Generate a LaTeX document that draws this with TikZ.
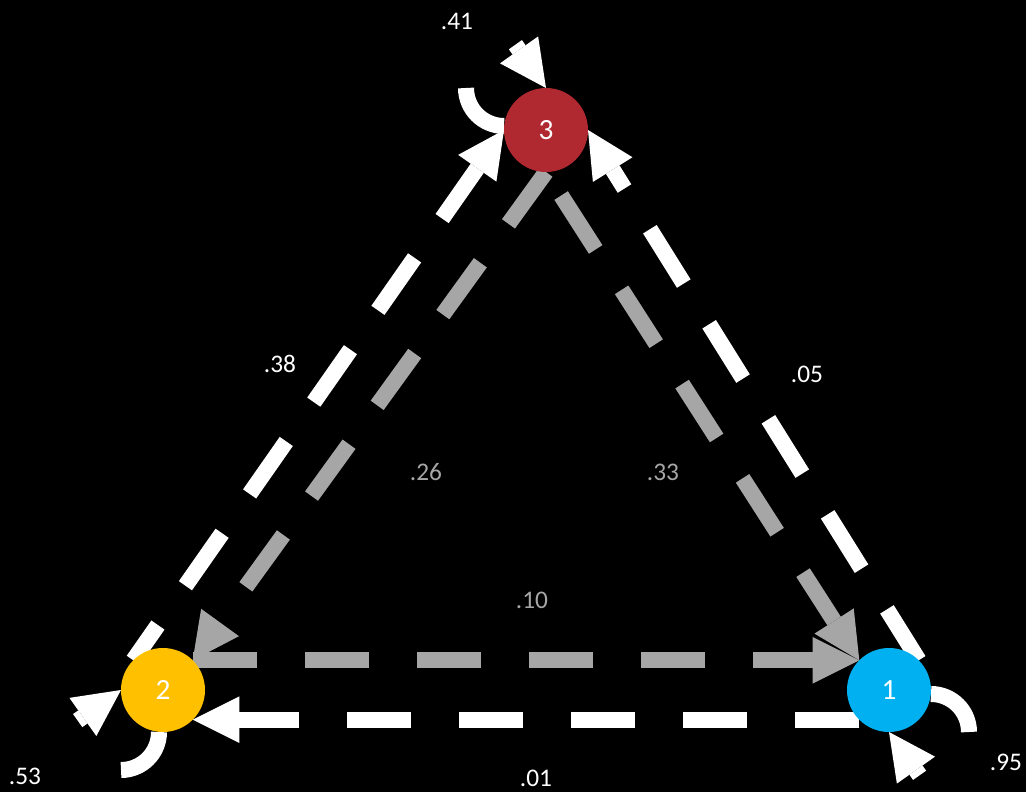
\documentclass[tikz,border=0pt]{standalone}
\usepackage{fontspec}
\setmainfont{Carlito}
\usetikzlibrary{arrows.meta}
\definecolor{lgray}{RGB}{166,166,166}
\definecolor{cred}{RGB}{176,40,48}
\definecolor{cgold}{RGB}{255,192,0}
\definecolor{cblue}{RGB}{0,176,240}
\pgfdeclarelayer{edges}
\pgfsetlayers{edges,main}
\begin{document}
\begin{tikzpicture}[x=0.75pt,y=-0.75pt,
  statenode/.style={circle,minimum size=63pt,inner sep=0pt,outer sep=0pt,text=white,font=\fontsize{22}{26}\selectfont},
  tip/.style={-{Triangle[length=35pt,width=35pt,line width=0pt]}},
  baseedge/.style={line width=12pt,dash pattern=on 48pt off 36pt,tip},
  wedge/.style={baseedge,draw=white},
  gedge/.style={baseedge,draw=lgray},
  loopline/.style={line width=12pt,draw=white},
  looparrow/.style={line width=12pt,draw=white,tip},
  lab/.style={text=white,inner sep=0pt,font=\fontsize{19}{22}\selectfont},
  glab/.style={lab,text=lgray}]
\useasboundingbox (0,0) rectangle (1026,792);
% states
\node[statenode,fill=cblue] (n1) at (889,690) {1};
\node[statenode,fill=cgold] (n2) at (163,690) {2};
\node[statenode,fill=cred]  (n3) at (546,130) {3};
% labels
\node[lab]  (p33) at (457,21)  {.41};
\node[lab]  (p23) at (280,364) {.38};
\node[lab]  (p13) at (807,374) {.05};
\node[glab] (p32) at (426,472) {.26};
\node[glab] (p31) at (663,472) {.33};
\node[glab] (p21) at (532,600) {.10};
\node[lab]  (p22) at (25,776)  {.53};
\node[lab]  (p12) at (536,778) {.01};
\node[lab]  (p11) at (1006,762) {.95};
\begin{pgfonlayer}{edges}
\fill[black] (0,0) rectangle (1026,792);
% edges
\draw[gedge] (n2.north east) -- (n1.north west);
\draw[gedge] (n3.south) -- (n2.north east);
\draw[gedge,dash phase=63pt] (n3.south) -- (n1.north west);
\draw[wedge,dash phase=15.75pt] (n2.north west) -- (n3.west);
\draw[wedge,dash phase=3pt] (n1.north east) -- (n3.east);
\draw[wedge] (n1.south west) -- (n2.south east);
% self loops
\coordinate (c3) at ([shift={(-42,-42)}]n3.center);
\draw[loopline] (c3) ++(90:38) arc (90:180:38);
\coordinate (s3) at ([shift={(-30.6,-43.3)}]n3.north);
\draw[looparrow] (s3) -- (n3.north);
\coordinate (c1) at ([shift={(42,42)}]n1.center);
\draw[loopline] (c1) ++(270:38) arc (270:360:38);
\coordinate (s1) at ([shift={(30.6,43.3)}]n1.south);
\draw[looparrow] (s1) -- (n1.south);
\coordinate (c2) at ([shift={(-42,42)}]n2.center);
\draw[loopline] (c2) ++(0:38) arc (0:90:38);
\coordinate (s2) at ([shift={(-43.3,30.6)}]n2.west);
\draw[looparrow] (s2) -- (n2.west);
\end{pgfonlayer}
\end{tikzpicture}
\end{document}
